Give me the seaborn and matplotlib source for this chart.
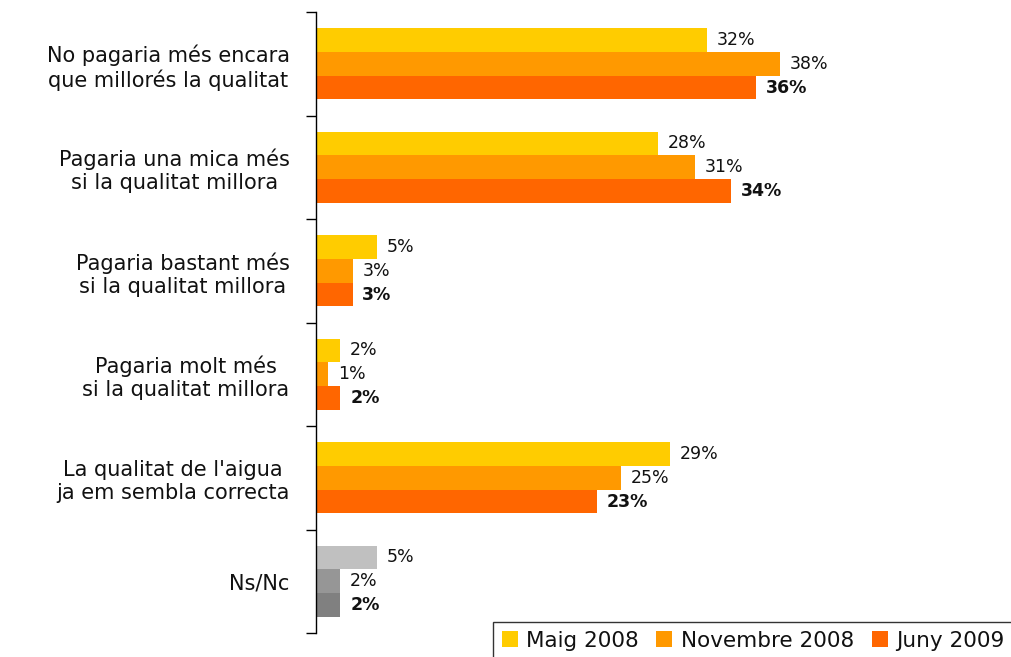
import matplotlib
matplotlib.use("Agg")
import matplotlib.pyplot as plt
import seaborn as sns
import pandas as pd
import numpy as np

categories = [
    "No pagaria més encara\nque millorés la qualitat",
    "Pagaria una mica més\nsi la qualitat millora",
    "Pagaria bastant més\nsi la qualitat millora",
    "Pagaria molt més\nsi la qualitat millora",
    "La qualitat de l'aigua\nja em sembla correcta",
    "Ns/Nc",
]
series = ["Maig 2008", "Novembre 2008", "Juny 2009"]
maig_2008 = [32, 28, 5, 2, 29, 5]
novembre_2008 = [38, 31, 3, 1, 25, 2]
juny_2009 = [36, 34, 3, 2, 23, 2]

colors = ["#FFCC00", "#FF9900", "#FF6600"]
grays = ["#C0C0C0", "#969696", "#808080"]

rows = []
for s, vals in zip(series, [maig_2008, novembre_2008, juny_2009]):
    for c, v in zip(categories, vals):
        rows.append({"cat": c, "serie": s, "val": v})
df = pd.DataFrame(rows)

sns.set_theme(style="white")
plt.rcParams["font.family"] = ["DejaVu Sans"]

fig = plt.figure(figsize=(10.12, 6.57), dpi=100)
ax = fig.add_axes([316/1012, 1-633/657, (1000-316)/1012, (633-12)/657])

sns.barplot(data=df, y="cat", x="val", hue="serie", order=categories,
            hue_order=series, palette=colors, width=0.69, orient="h",
            saturation=1, ax=ax, legend=True, linewidth=0)

# recolor Ns/Nc bars gray
for i, cont in enumerate(ax.containers):
    cont.patches[5].set_facecolor(grays[i])

# value labels
for i, cont in enumerate(ax.containers):
    for p in cont.patches:
        w = p.get_width()
        yc = p.get_y() + p.get_height() / 2
        ax.annotate(f"{w:.0f}%", xy=(w, yc), xytext=(7, 0),
                    textcoords="offset points", va="center", ha="left",
                    fontsize=12.5, color="#111111",
                    fontweight="bold" if i == 2 else "normal")

ax.set_xlim(0, 56)
ax.set_ylim(len(categories) - 0.5, -0.5)
ax.set_xlabel("")
ax.set_ylabel("")
ax.set_xticks([])
for s in ["top", "right", "bottom"]:
    ax.spines[s].set_visible(False)
ax.spines["left"].set_color("black")
ax.spines["left"].set_linewidth(1.0)

ax.set_yticks(range(len(categories)))
ax.set_yticklabels(categories, fontsize=15, color="#111111", multialignment="center")
ax.tick_params(axis="y", which="major", left=True, length=0, pad=19)
ax.set_yticks(np.arange(-0.5, len(categories), 1.0), minor=True)
ax.tick_params(axis="y", which="minor", left=True, length=7, width=1,
               color="black", direction="out")

leg = ax.legend(loc="upper left", bbox_to_anchor=(493/1012, 1-622/657),
                bbox_transform=fig.transFigure, ncol=3, frameon=True,
                fontsize=15.5, handlelength=0.75, handleheight=0.75,
                handletextpad=0.4, columnspacing=0.8, borderpad=0.4,
                borderaxespad=0, fancybox=False, edgecolor="black")
leg.get_frame().set_linewidth(1.0)
for t in leg.get_texts():
    t.set_color("#111111")

fig.savefig("out.png", dpi=100)
